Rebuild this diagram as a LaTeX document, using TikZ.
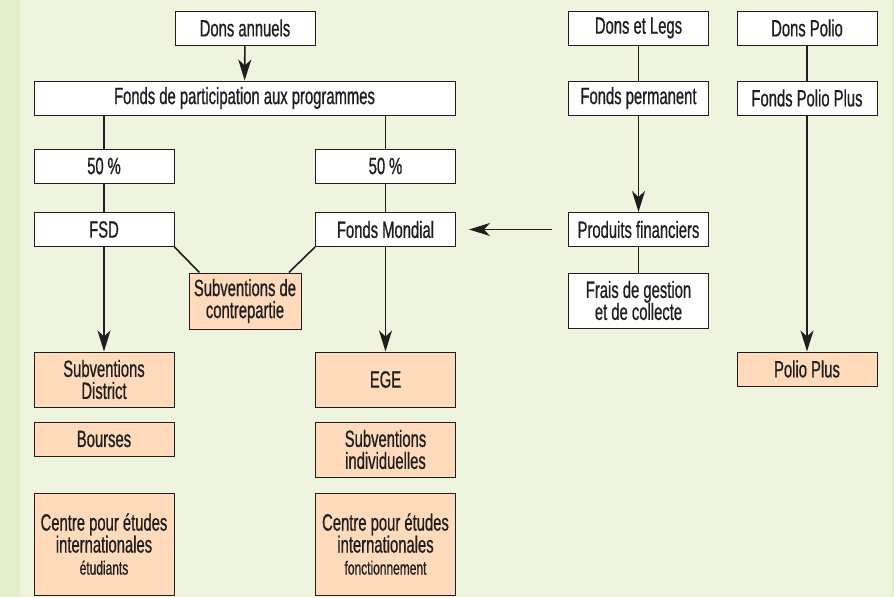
\documentclass[tikz,border=0pt]{standalone}
\usepackage{fontspec}
\setmainfont[FakeStretch=0.63, FakeBold=0.7]{Liberation Sans}
\usetikzlibrary{arrows.meta}

\definecolor{bgcol}{RGB}{239,244,223}
\definecolor{stripcol}{RGB}{226,238,204}
\definecolor{peach}{RGB}{255,219,188}
\definecolor{inkcol}{RGB}{30,30,30}

\tikzset{
    box/.style={draw=inkcol, line width=1pt, fill=white, text=inkcol, minimum width=140pt,
        minimum height=34pt, inner sep=0pt, align=center,
        font=\fontsize{23.5}{22}\selectfont},
    grant/.style={box, fill=peach},
    link/.style={draw=inkcol, line width=1.6pt},
    flow/.style={link, -{Stealth[length=21pt, width=13pt, inset=6pt]}}
}

\newcommand{\smalltxt}[1]{{\fontsize{19}{19}\selectfont #1}}

\begin{document}
\begin{tikzpicture}[x=1pt, y=-1pt]

    \fill[bgcol] (0, 0) rectangle (894, 597);
    \fill[stripcol] (0, 0) rectangle (20, 597);
    \fill[stripcol] (892, 0) rectangle (894, 597);
    \useasboundingbox (0, 0) rectangle (894, 597);

    % annual giving
    \node[box] (annuels) at (245, 28) {Dons annuels};
    \node[box, minimum width=421pt] (fpp) at (244.5, 98) {Fonds de participation aux programmes};

    \node[box] (pctL) at (104, 166) {50\,\%};
    \node[box] (pctR) at (385.5, 166) {50\,\%};

    \node[box] (fsd) at (104, 229.5) {FSD};
    \node[box] (mondial) at (385.5, 229.5) {Fonds Mondial};

    \node[grant, minimum width=112pt, minimum height=56pt] (contre) at (245, 301) {Subventions de\\contrepartie};

    \node[grant, minimum height=55pt] (district) at (104, 379.5) {Subventions\\District};
    \node[grant] (bourses) at (104, 439) {Bourses};
    \node[grant, minimum height=102pt] (cieL) at (104, 544) {Centre pour études\\internationales\\\smalltxt{étudiants}};

    \node[grant, minimum height=55pt] (ege) at (385.5, 379.5) {EGE};
    \node[grant, minimum height=55pt] (indiv) at (385.5, 449.5) {Subventions\\individuelles};
    \node[grant, minimum height=102pt] (cieR) at (385.5, 544) {Centre pour études\\internationales\\\smalltxt{fonctionnement}};

    % endowment
    \node[box] (legs) at (638.5, 28) {Dons et Legs};
    \node[box] (perm) at (638.5, 98) {Fonds permanent};
    \node[box] (prod) at (638.5, 229.5) {Produits financiers};
    \node[box, minimum height=55pt] (frais) at (638.5, 300.5) {Frais de gestion\\et de collecte};

    % polio
    \node[box] (polio) at (807, 28) {Dons Polio};
    \node[box] (fpolio) at (807, 98) {Fonds Polio Plus};
    \node[grant] (pplus) at (807, 369) {Polio Plus};

    \draw[flow] (annuels) -- (fpp);
    \draw[link] (pctL.north |- fpp.south) -- (pctL.north);
    \draw[link] (pctR.north |- fpp.south) -- (pctR.north);
    \draw[link] (pctL) -- (fsd);
    \draw[link] (pctR) -- (mondial);
    \draw[flow] (fsd) -- (district);
    \draw[flow] (mondial) -- (ege);
    \draw[link] (fsd.south east) -- (contre.148);
    \draw[link] (mondial.south west) -- (contre.33);

    \draw[link] (legs) -- (perm);
    \draw[flow] (perm) -- (prod);
    \draw[link] (prod) -- (frais);
    \draw[flow, shorten <=16pt, shorten >=13pt] (prod) -- (mondial);

    \draw[link] (polio) -- (fpolio);
    \draw[flow] (fpolio) -- (pplus);

\end{tikzpicture}
\end{document}
